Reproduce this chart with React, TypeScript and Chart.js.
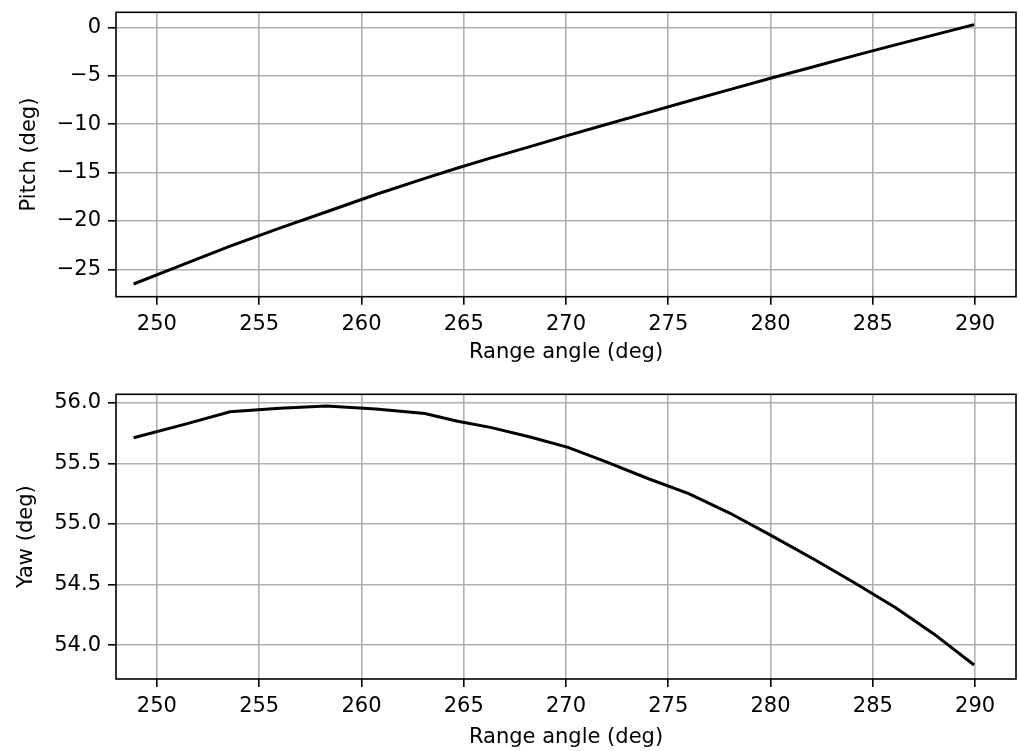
import React, { useEffect, useRef } from 'react';
import { Chart, registerables } from 'chart.js';

Chart.register(...registerables);

// ---- data ----
const rangeAngle = [248.86, 251.3, 253.58, 256.0, 258.3, 260.7, 263.1, 264.7, 266.3, 268.2, 270.1, 272.0, 274.0, 276.0, 278.0, 280.0, 282.1, 284.1, 286.1, 288.0, 289.95];
const pitch = [-26.52, -24.5, -22.6, -20.74, -19.05, -17.27, -15.6, -14.53, -13.52, -12.35, -11.17, -10.02, -8.81, -7.61, -6.44, -5.27, -4.07, -2.93, -1.82, -0.78, 0.28];
const yaw = [55.711, 55.82, 55.926, 55.955, 55.973, 55.949, 55.912, 55.848, 55.797, 55.72, 55.632, 55.51, 55.375, 55.25, 55.09, 54.908, 54.71, 54.515, 54.31, 54.09, 53.836];

const xTicks = [250, 255, 260, 265, 270, 275, 280, 285, 290];
const pitchTicks = [-25, -20, -15, -10, -5, 0];
const yawTicks = [54.0, 54.5, 55.0, 55.5, 56.0];

const X_LABEL = 'Range angle (deg)';
const PITCH_LABEL = 'Pitch (deg)';
const YAW_LABEL = 'Yaw (deg)';

const FONT = { family: "'DejaVu Sans', sans-serif", size: 21, lineHeight: 1.2 };
const GRID = '#b0b0b0';

const framePlugin = {
  id: 'frame',
  afterDraw(chart: any) {
    const { ctx, chartArea: a } = chart;
    ctx.save();
    ctx.strokeStyle = '#000';
    ctx.lineWidth = 1.6;
    ctx.strokeRect(a.left, a.top, a.right - a.left, a.bottom - a.top);
    ctx.restore();
  },
};

function makeConfig(p: {
  ys: number[];
  yMin: number;
  yMax: number;
  yTicks: number[];
  yLabel: string;
  fmt: (v: number) => string;
  padTop: number;
  xHeight: number;
  xTitlePadBottom: number;
  yTitlePadTop: number;
}): any {
  return {
    type: 'line',
    data: {
      datasets: [
        {
          data: rangeAngle.map((x, i) => ({ x, y: p.ys[i] })),
          borderColor: '#000',
          borderWidth: 3,
          pointRadius: 0,
          tension: 0,
          fill: false,
        },
      ],
    },
    options: {
      responsive: false,
      animation: false,
      devicePixelRatio: 1,
      layout: { padding: { left: 0, right: 3, top: p.padTop, bottom: 0 } },
      plugins: { legend: { display: false }, tooltip: { enabled: false }, title: { display: false } },
      scales: {
        x: {
          type: 'linear',
          min: 248,
          max: 292,
          afterBuildTicks: (s: any) => {
            s.ticks = xTicks.map((v) => ({ value: v }));
          },
          afterFit: (s: any) => {
            s.height = p.xHeight;
          },
          ticks: {
            autoSkip: false,
            maxRotation: 0,
            padding: 7,
            color: '#000',
            font: FONT,
            callback: (v: number) => String(v),
          },
          grid: { color: GRID, lineWidth: 1.6, tickColor: '#000', tickWidth: 1.6, tickLength: 8 },
          border: { display: false },
          title: { display: true, text: X_LABEL, color: '#000', font: FONT, padding: { top: 0, bottom: p.xTitlePadBottom } },
        },
        y: {
          type: 'linear',
          min: p.yMin,
          max: p.yMax,
          afterBuildTicks: (s: any) => {
            s.ticks = p.yTicks.map((v) => ({ value: v }));
          },
          afterFit: (s: any) => {
            s.width = 116;
            s.paddingTop = 0;
            s.paddingBottom = 0;
          },
          ticks: {
            autoSkip: false,
            padding: 7,
            color: '#000',
            font: FONT,
            callback: (v: number) => p.fmt(v),
          },
          grid: { color: GRID, lineWidth: 1.6, tickColor: '#000', tickWidth: 1.6, tickLength: 8 },
          border: { display: false },
          title: { display: true, text: p.yLabel, color: '#000', font: FONT, padding: { top: p.yTitlePadTop, bottom: 0 } },
        },
      },
    },
    plugins: [framePlugin],
  };
}

const minusFmt = (v: number) => (v < 0 ? '\u2212' + String(Math.abs(v)) : String(v));
const oneDec = (v: number) => v.toFixed(1);

export default function App() {
  const topRef = useRef<HTMLCanvasElement | null>(null);
  const botRef = useRef<HTMLCanvasElement | null>(null);

  useEffect(() => {
    const c1 = new Chart(
      topRef.current as HTMLCanvasElement,
      makeConfig({
        ys: pitch,
        yMin: -27.83,
        yMax: 1.55,
        yTicks: pitchTicks,
        yLabel: PITCH_LABEL,
        fmt: minusFmt,
        padTop: 12.3,
        xHeight: 78.3,
        xTitlePadBottom: 9.4,
        yTitlePadTop: 17.4,
      })
    );
    const c2 = new Chart(
      botRef.current as HTMLCanvasElement,
      makeConfig({
        ys: yaw,
        yMin: 53.72,
        yMax: 56.07,
        yTicks: yawTicks,
        yLabel: YAW_LABEL,
        fmt: oneDec,
        padTop: 19.3,
        xHeight: 72,
        xTitlePadBottom: 0.6,
        yTitlePadTop: 14.4,
      })
    );
    return () => {
      c1.destroy();
      c2.destroy();
    };
  }, []);

  return (
    <div style={{ position: 'absolute', left: 0, top: 0, width: 1019, height: 751, background: '#fff' }}>
      <canvas
        ref={topRef}
        width={1019}
        height={375}
        style={{ position: 'absolute', left: 0, top: 0, width: 1019, height: 375 }}
      />
      <canvas
        ref={botRef}
        width={1019}
        height={376}
        style={{ position: 'absolute', left: 0, top: 375, width: 1019, height: 376 }}
      />
    </div>
  );
}
